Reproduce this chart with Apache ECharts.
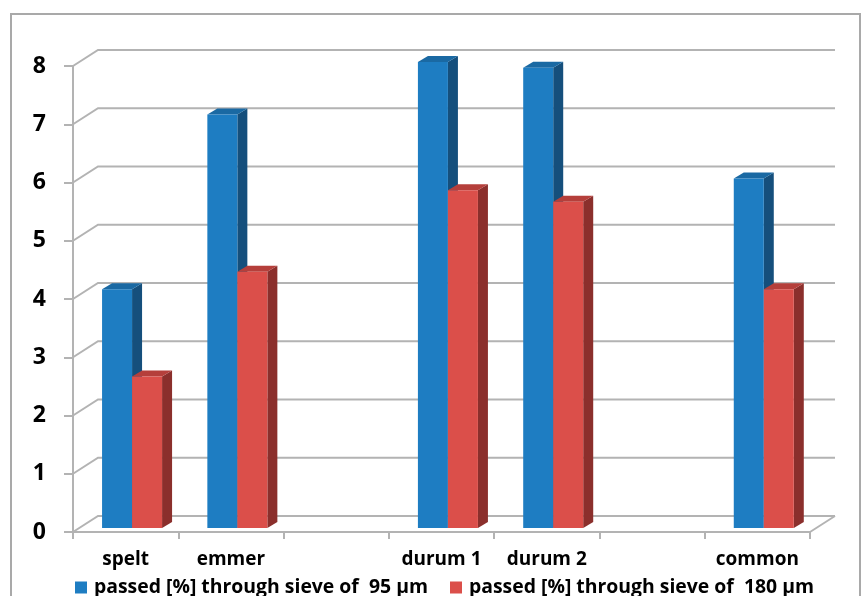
<!DOCTYPE html>
<html><head><meta charset="utf-8">
<style>html,body{margin:0;padding:0;background:#fff}#c{width:868px;height:596px}</style>
<script src="https://cdn.jsdelivr.net/npm/echarts@6/dist/echarts.min.js"></script>
</head><body><div id="c"></div>
<script>
const categories = ['spelt','emmer','','durum 1','durum 2','','common'];
const passed95 = [4.1,7.1,null,8,7.9,null,6];
const passed180 = [2.6,4.4,null,5.8,5.6,null,4.1];
const yTicks = [0,1,2,3,4,5,6,7,8];
const name95 = 'passed [%] through sieve of  95 µm';
const name180 = 'passed [%] through sieve of  180 µm';

const FONT = '"Open Sans"';
const DX = 25, DY = 16;
const GRAY = '#b3b3b3';
const chart = echarts.init(document.getElementById('c'), null, {renderer:'canvas'});

function wallRender(params, api){
  const v = api.value(0);
  const p = api.coord([0, v]);
  const band = api.size([1,0])[0];
  const x0 = p[0] - band/2, y = p[1];
  const x1 = x0 + band*categories.length;
  const kids = [{type:'polyline',shape:{points:[[x0,y],[x0+DX,y-DY],[x1+DX,y-DY]]},
    style:{stroke:GRAY,lineWidth:2,fill:null}}];
  if (v === 0) kids.push({type:'line',shape:{x1:x1,y1:y,x2:x1+DX,y2:y-DY},style:{stroke:GRAY,lineWidth:2}});
  return {type:'group',children:kids};
}
function barRender(side, colors){
  return function(params, api){
    const v = api.value(1);
    if (v == null || isNaN(v)) return null;
    const c = api.coord([api.value(0), v]);
    const b = api.coord([api.value(0), 0]);
    const band = api.size([1,0])[0];
    const w = band*0.285, d = 10, e = 6, lift = 4;
    const cx = c[0] + band*0.061;
    const l = side < 0 ? cx - w : cx, r = l + w;
    const t = c[1] - lift, u = b[1] - lift;
    return {type:'group',children:[
      {type:'polygon',shape:{points:[[r,t],[r+d,t-e],[r+d,u-e],[r,u]]},style:{fill:colors[1]}},
      {type:'polygon',shape:{points:[[l,t],[l+d,t-e],[r+d,t-e],[r,t]]},style:{fill:colors[2]}},
      {type:'rect',shape:{x:l,y:t,width:w,height:u-t},style:{fill:colors[0]}}
    ]};
  };
}
const blue = ['#1e7dc2','#154f7c','#1a69a3'];
const red = ['#db4f4a','#8b2f2c','#b53f3b'];

chart.setOption({
  animation:false,
  backgroundColor:'#fff',
  graphic:[{type:'rect',z:-1,shape:{x:11,y:14,width:849,height:620},style:{fill:null,stroke:'#a9a9a9',lineWidth:2}}],
  grid:{left:73,right:58,top:66,bottom:64},
  legend:{data:[name95,name180],left:75,top:578,padding:0,icon:'rect',itemWidth:12,itemHeight:12,itemGap:22,
    textStyle:{fontFamily:FONT,fontWeight:'bold',fontSize:19.4,color:'#000',padding:[0,0,0,2]}},
  xAxis:{type:'category',data:categories,
    axisLine:{lineStyle:{color:GRAY,width:2}},
    axisTick:{show:true,alignWithLabel:false,length:7,lineStyle:{color:GRAY,width:2}},
    axisLabel:{interval:0,margin:18,fontFamily:FONT,fontWeight:'bold',fontSize:19,color:'#000'},
    splitLine:{show:false}},
  yAxis:{type:'value',min:0,max:8,interval:1,
    axisLine:{show:true,lineStyle:{color:GRAY,width:2}},
    axisTick:{show:true,length:9,lineStyle:{color:GRAY,width:2}},
    axisLabel:{margin:27,padding:[4,0,0,0],fontFamily:FONT,fontWeight:'bold',fontSize:23,color:'#000'},
    splitLine:{show:false}},
  series:[
    {type:'custom',z:1,silent:true,renderItem:wallRender,data:yTicks.map(v=>[v]),encode:{y:0},clip:false},
    {type:'custom',z:2,name:name95,itemStyle:{color:blue[0]},renderItem:barRender(-1,blue),
      data:passed95.map((v,i)=>[i,v]),encode:{x:0,y:1},clip:false},
    {type:'custom',z:3,name:name180,itemStyle:{color:red[0]},renderItem:barRender(1,red),
      data:passed180.map((v,i)=>[i,v]),encode:{x:0,y:1},clip:false}
  ]
});
</script></body></html>
